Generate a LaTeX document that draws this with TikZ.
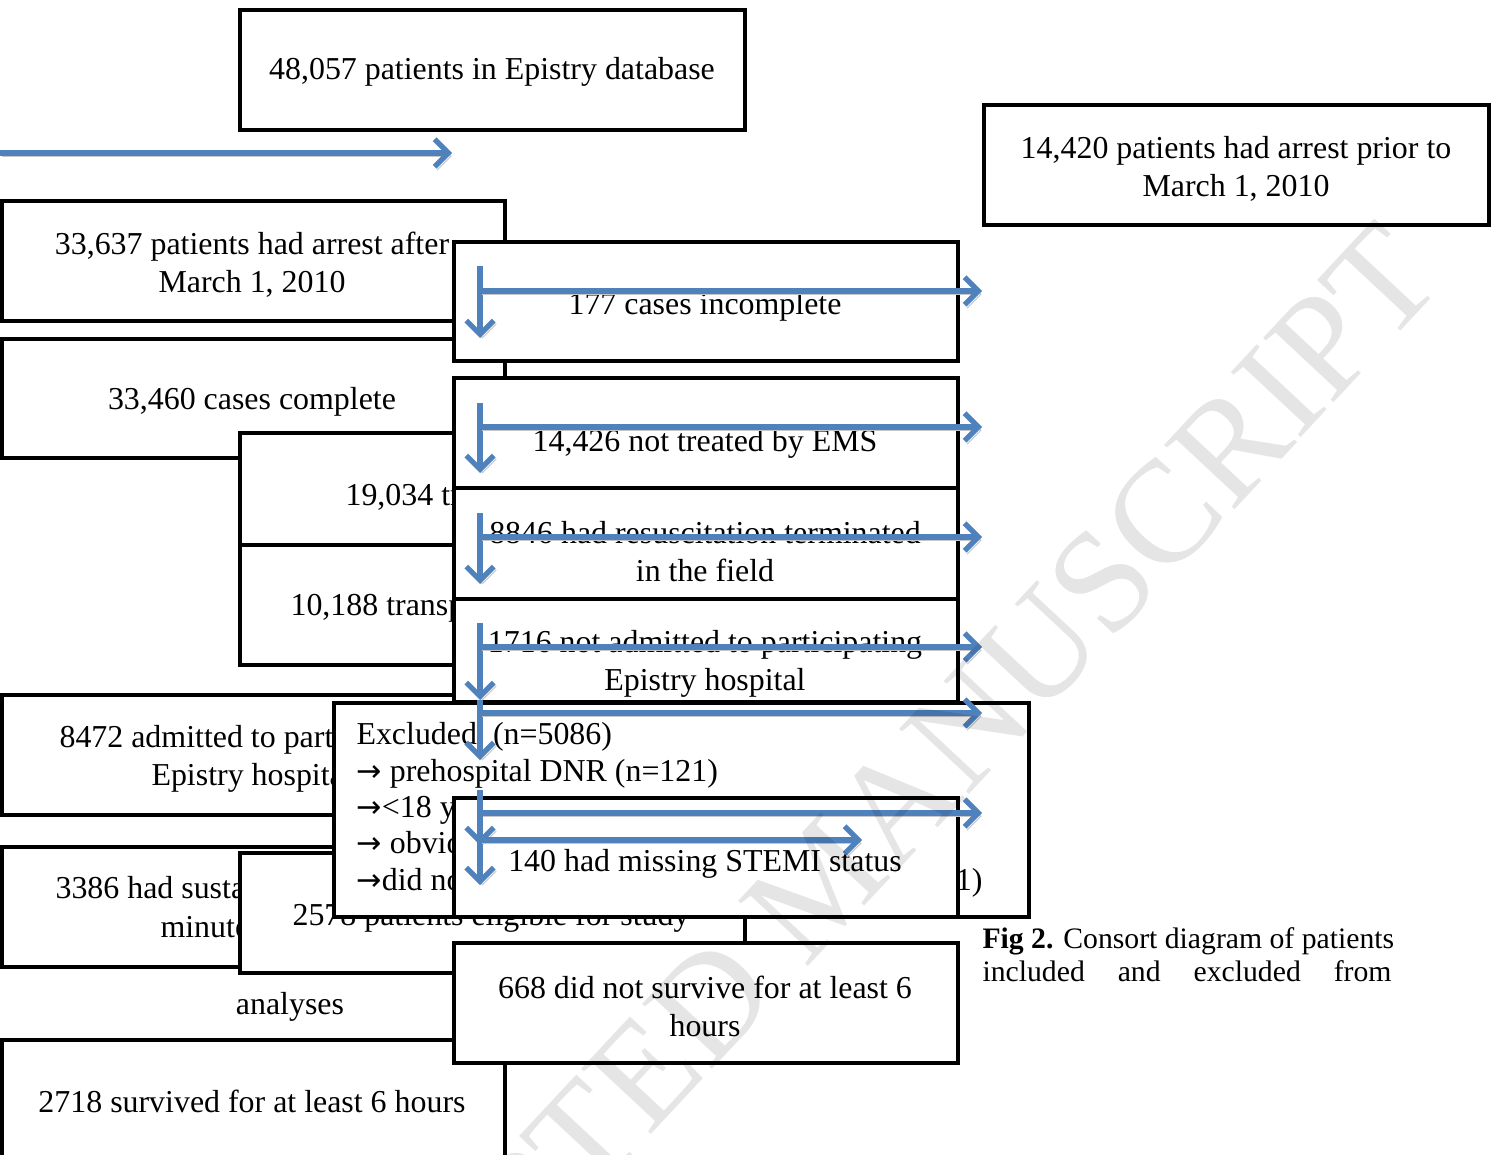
\documentclass[tikz,border=0pt]{standalone}
\usepackage{fontspec}
\setmainfont{Liberation Serif}
\newfontfamily\arrowfont{DejaVu Sans}
\usetikzlibrary{arrows.meta}

\definecolor{flowblue}{RGB}{79,129,189}
\newcommand{\pxu}{0.3636pt}
\newcommand{\ra}{{\arrowfont\fontsize{11}{13}\selectfont →}}

\tikzset{
  box/.style={draw, line width=1.5pt, fill=white, anchor=north west, inner sep=0pt, outer sep=0pt, align=center},
  wh/.style 2 args={minimum width=#1*\pxu, minimum height=#2*\pxu},
  cuttxt/.style={inner sep=0pt, anchor=base west},
  flow/.style={draw=flowblue, line width=1.9pt, -{Straight Barb[length=5pt,width=10pt]},
    preaction={draw=black!22, transform canvas={xshift=0.9pt,yshift=-1.2pt}}}
}

\begin{document}
\begin{tikzpicture}[x=\pxu, y=-\pxu, every node/.style={font=\fontsize{11.6}{13.8}\selectfont}]
    \useasboundingbox (0,0) rectangle (1493,1155);

    % Database and date split
    \node[box, wh={505}{120}] (b48) at (240,10) {};
    \node (t48) at (492,72) {48,057 patients in Epistry database};
    \node[box, wh={505}{120}] (b14420) at (984,105) {};
    \node[align=center] (t14420) at (1236,169) {14,420 patients had arrest prior to\\March 1, 2010};

    % Left column
    \node[box, wh={503}{120}] (b33637) at (2,201) {};
    \node[align=center] (t33637) at (252,265) {33,637 patients had arrest after\\March 1, 2010};
    \node[box, wh={503}{119}] (b33460) at (2,339) {};
    \node (t33460) at (252,402) {33,460 cases complete};
    \draw[line width=1.5pt] ([xshift=-2*\pxu]b33637.south east) -- ([xshift=-2*\pxu]b33460.north east);
    \node[box, wh={505}{112}] (b19034) at (240,433) {};
    \node[cuttxt] (t19034) at (345,505) {19,034 treated by EMS};
    \node[box, wh={505}{120}] (b10188) at (240,545) {};
    \node[cuttxt] (t10188) at (290,615) {10,188 transported};
    \node[box, wh={503}{120}] (b8472) at (2,695) {};
    \node[cuttxt] (t8472a) at (59,747) {8472 admitted to participating};
    \node[cuttxt] (t8472b) at (151,785) {Epistry hospital};
    \node[box, wh={503}{120}] (b3386) at (2,847) {};
    \node[cuttxt] (t3386a) at (55,898) {3386 had sustained};
    \node[cuttxt] (t3386b) at (160,937) {minutes};
    \node[box, wh={505}{120}] (b2578) at (240,853) {};
    \node[cuttxt] (t2578) at (292,925) {2578 patients eligible for study};

    % Exclusions column
    \node[box, wh={504}{119}] (b177) at (454,242) {};
    \node (t177) at (705,307) {177 cases incomplete};
    \node[box, wh={504}{110}] (b14426) at (454,378) {};
    \node (t14426) at (705,444) {14,426 not treated by EMS};
    \node[box, wh={504}{111}] (b8846) at (454,488) {};
    \node[align=center] (t8846) at (705,552) {8846 had resuscitation terminated\\in the field};
    \node[box, wh={504}{103}] (b1716) at (454,599) {};
    \node[align=center] (t1716) at (705,664) {1716 not admitted to participating\\Epistry hospital};

    % Excluded list
    \node[box, wh={695}{214}] (bexcl) at (334,703) {};
    \node[cuttxt] (ex1) at (356,744) {Excluded\ \ (n=5086)};
    \node[cuttxt] (ex2) at (356,781) {\ra\ prehospital DNR (n=121)};
    \node[cuttxt] (ex3) at (356,817) {\ra<18 years};
    \node[cuttxt] (ex4) at (356,853) {\ra\ obvious};
    \node[cuttxt] (ex5) at (356,890) {\ra did not};
    \node[inner sep=0pt, anchor=base east] (ex5end) at (983,890) {1)};
    \node[box, wh={504}{119}] (b140) at (454,798) {};
    \node (t140) at (705,864) {140 had missing STEMI status};

    \node (tana) at (290,1007) {analyses};
    \node[box, wh={503}{130}] (b2718) at (2,1040) {};
    \node (t2718) at (252,1101) {2718 survived for at least 6 hours};
    \node[box, wh={504}{120}] (b668) at (454,943) {};
    \node[align=center] (t668) at (705,1006) {668 did not survive for at least 6\\hours};

    % Arrows
    \coordinate (feedin) at (0,153);
    \coordinate (feedtip) at (452,153);
    \draw[flow] (feedin) -- (feedtip);
    \foreach \ya/\yb/\yh/\xt [count=\i] in {266/338/291/982, 403/473/427/982, 513/584/537/982,
        623/700/647/982, 700/760/713/982, 790/845/813/982, 815/885/840/862} {
        \coordinate (v\i) at (480,\ya);
        \coordinate (vt\i) at (480,\yb);
        \coordinate (h\i) at (480,\yh);
        \coordinate (ht\i) at (\xt,\yh);
        \draw[flow] (v\i) -- (vt\i);
        \draw[flow] (h\i) -- (ht\i);
    }

    % Caption
    \node[cuttxt, font=\fontsize{10.8}{12}\selectfont] (cap1) at (982,948) {\textbf{Fig 2.} Consort diagram of patients};
    \node[cuttxt, font=\fontsize{10.8}{12}\selectfont] (cap2) at (982,981) {\makebox[148.7pt][s]{included and excluded from}};

    % Watermark
    \node[rotate=47, anchor=base west, inner sep=0pt, opacity=0.1, font=\fontsize{53}{60}\selectfont] (wm) at (267,1547) {ACCEPTED MANUSCRIPT};
\end{tikzpicture}
\end{document}
